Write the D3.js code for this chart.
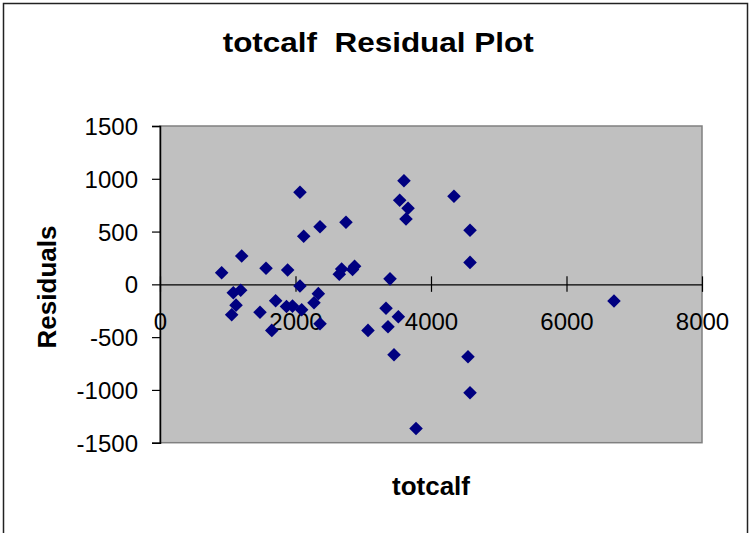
<!DOCTYPE html>
<html>
<head>
<meta charset="utf-8">
<script src="https://cdn.jsdelivr.net/npm/d3@7"></script>
<style>
  html, body { margin: 0; padding: 0; background: #fff; }
  svg { display: block; font-family: "Liberation Sans", Arial, sans-serif; }
</style>
</head>
<body>
<svg id="chart" width="752" height="533"></svg>
<script>
// ---- data ----
const totcalf = [910, 1206, 1565, 1884, 2066, 2121, 2362, 2745, 2646, 2681, 2842, 2872,
  3395, 3601, 3538, 3661, 3631, 4339, 4576, 4576, 2066, 1082, 1191, 1122, 1058, 1476,
  1707, 1867, 1956, 2091, 2337, 2273, 2362, 1650, 3336, 3518, 3365, 3070, 3454, 4546,
  4576, 3779, 6701];
const residuals = [110, 268, 152, 136, 872, 455, 546, 588, 95, 145, 140, 171,
  52, 982, 796, 720, 619, 834, 512, 208, -16, -80, -56, -197, -288, -265,
  -155, -210, -206, -240, -88, -174, -373, -436, -227, -307, -402, -436, -667, -686,
  -1027, -1365, -158];
const xTicks = [0, 2000, 4000, 6000, 8000];
const yTicks = [-1500, -1000, -500, 0, 500, 1000, 1500];
const chartTitle = "totcalf  Residual Plot";
const xTitle = "totcalf";
const yTitle = "Residuals";

// ---- layout ----
const svg = d3.select("#chart");
const pLeft = 160, pRight = 702, pTop = 126, pBottom = 442.7;
const x = d3.scaleLinear().domain([0, 8000]).range([pLeft, pRight]);
const y = d3.scaleLinear().domain([-1500, 1500]).range([pBottom, pTop]);
const fmt = d => String(d);

// outer frame
svg.append("rect").attr("x", 3.5).attr("y", 3.5).attr("width", 744).attr("height", 545)
  .attr("fill", "none").attr("stroke", "#222").attr("stroke-width", 1.5);

// plot area
svg.append("rect").attr("x", pLeft).attr("y", pTop)
  .attr("width", pRight - pLeft).attr("height", pBottom - pTop)
  .attr("fill", "#c0c0c0").attr("stroke", "#808080").attr("stroke-width", 1.5);

// y axis
const yAxis = svg.append("g").attr("transform", `translate(${pLeft},0)`)
  .call(d3.axisLeft(y).tickValues(yTicks).tickSize(8).tickPadding(14).tickFormat(fmt));
yAxis.select(".domain").attr("stroke", "#000").attr("stroke-width", 1.5);
yAxis.selectAll(".tick line").attr("stroke", "#000").attr("stroke-width", 1.2);
yAxis.selectAll(".tick text").attr("font-size", 24).attr("fill", "#000")
  .attr("font-family", "Liberation Sans, Arial, sans-serif").attr("dy", "0.36em");

// x axis at y = 0 with crossing ticks
const xAxis = svg.append("g").attr("transform", `translate(0,${y(0)})`)
  .call(d3.axisBottom(x).tickValues(xTicks).tickSize(0).tickFormat(fmt));
xAxis.select(".domain").attr("stroke", "#000").attr("stroke-width", 1.2);
xAxis.selectAll(".tick line").attr("y1", -8).attr("y2", 7.5).attr("stroke", "#000").attr("stroke-width", 1.2);
xAxis.selectAll(".tick text").attr("font-size", 24).attr("fill", "#000")
  .attr("font-family", "Liberation Sans, Arial, sans-serif")
  .attr("y", 46).attr("dy", 0);

// points
const diamond = d3.symbol().type(d3.symbolSquare).size(92);
svg.append("g").selectAll("path").data(totcalf).join("path")
  .attr("d", diamond)
  .attr("transform", (d, i) => `translate(${x(d)},${y(residuals[i])}) rotate(45)`)
  .attr("fill", "#000080");

// titles
svg.append("text").attr("x", 222.7).attr("y", 52)
  .attr("font-size", 28).attr("font-weight", "bold").attr("fill", "#000")
  .attr("textLength", 311).attr("lengthAdjust", "spacingAndGlyphs")
  .style("white-space", "pre").text(chartTitle);

svg.append("text").attr("x", (pLeft + pRight) / 2).attr("y", 495)
  .attr("text-anchor", "middle").attr("font-size", 26).attr("font-weight", "bold")
  .attr("fill", "#000").text(xTitle);

svg.append("text").attr("transform", `translate(56,${287}) rotate(-90)`)
  .attr("text-anchor", "middle").attr("font-size", 26).attr("font-weight", "bold")
  .attr("fill", "#000").text(yTitle);
</script>
</body>
</html>
